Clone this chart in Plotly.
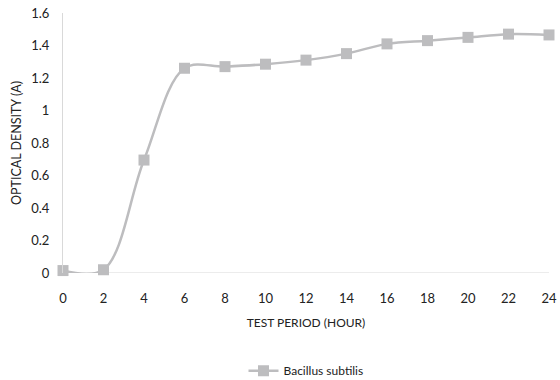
import plotly.graph_objects as go

hours = [0, 2, 4, 6, 8, 10, 12, 14, 16, 18, 20, 22, 24]
density = [0.015, 0.02, 0.695, 1.26, 1.27, 1.285, 1.31, 1.35, 1.41, 1.43, 1.45, 1.47, 1.465]
y_ticks = [0, 0.2, 0.4, 0.6, 0.8, 1, 1.2, 1.4, 1.6]
y_labels = ["0", "0.2", "0.4", "0.6", "0.8", "1", "1.2", "1.4", "1.6"]

font = "Lato, Noto Sans, sans-serif"
gray = "#BDBDBF"

fig = go.Figure()
fig.add_trace(go.Scatter(
    x=hours, y=density, mode="lines+markers", name="Bacillus subtilis",
    line=dict(color=gray, width=2.5, shape="spline", smoothing=1.0),
    marker=dict(symbol="square", size=11, color=gray),
    cliponaxis=False,
))
fig.update_layout(
    width=560, height=380,
    margin=dict(l=63, r=11, t=13, b=107, autoexpand=False),
    paper_bgcolor="white", plot_bgcolor="white",
    font=dict(family=font, size=13, color="#222"),
    showlegend=True,
    legend=dict(orientation="h", x=0.5, xanchor="center", y=-0.32, yanchor="top",
                font=dict(size=12)),
    xaxis=dict(range=[0, 24], tickmode="array", tickvals=hours, ticks="outside",
               ticklen=13, tickcolor="rgba(0,0,0,0)", automargin=False,
               showgrid=False, zeroline=False, showline=False,
               title=dict(text="TEST PERIOD (HOUR)", font=dict(size=12), standoff=14)),
    yaxis=dict(range=[0, 1.6], tickmode="array", tickvals=y_ticks, ticktext=y_labels,
               ticks="outside", ticklen=10, tickcolor="rgba(0,0,0,0)", automargin=False,
               showgrid=False, zeroline=False, showline=True,
               linecolor="#D9D9D9", linewidth=1,
               title=dict(text="OPTICAL DENSITY (A)", font=dict(size=12.5), standoff=6)),
)
fig.add_shape(type="line", xref="paper", yref="y", x0=0, x1=1, y0=0, y1=0,
              line=dict(color="#D9D9D9", width=1), layer="below")
fig.write_html("out.html", config={"displayModeBar": False},
               post_script="document.body.style.margin='0';")
